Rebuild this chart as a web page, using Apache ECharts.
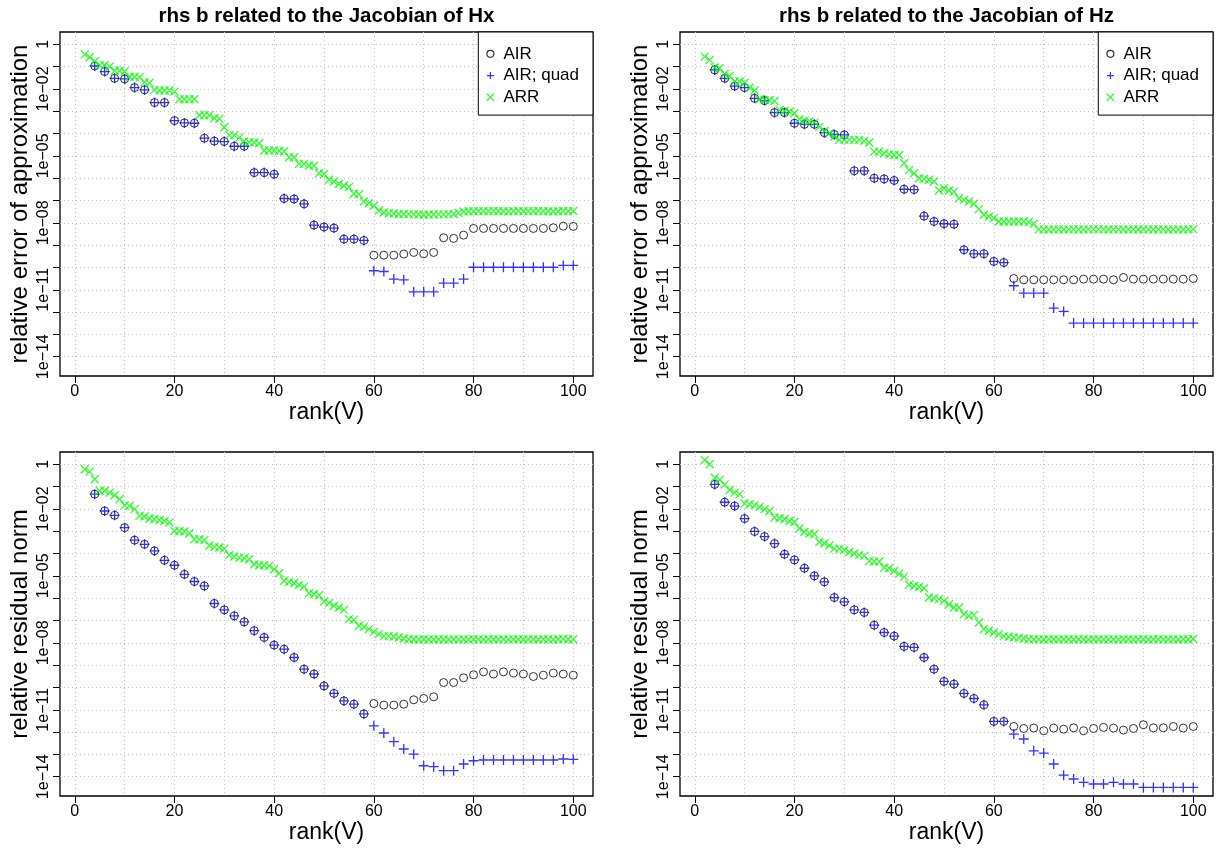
<!DOCTYPE html>
<html><head><meta charset="utf-8">
<script src="https://cdn.jsdelivr.net/npm/echarts@6/dist/echarts.min.js"></script>
<style>html,body{margin:0;padding:0;background:#fff}#c{width:1221px;height:849px}</style>
</head><body><div id="c"></div><script>
// ranks
const airRank = [4,6,8,10,12,14,16,18,20,22,24,26,28,30,32,34,36,38,40,42,44,46,48,50,52,54,56,58,60,62,64,66,68,70,72,74,76,78,80,82,84,86,88,90,92,94,96,98,100];
const arrRank = [2,3,4,5,6,7,8,9,10,11,12,13,14,15,16,17,18,19,20,21,22,23,24,25,26,27,28,29,30,31,32,33,34,35,36,37,38,39,40,41,42,43,44,45,46,47,48,49,50,51,52,53,54,55,56,57,58,59,60,61,62,63,64,65,66,67,68,69,70,71,72,73,74,75,76,77,78,79,80,81,82,83,84,85,86,87,88,89,90,91,92,93,94,95,96,97,98,99,100];

// axis ticks
const xTicks = [0,20,40,60,80,100];
const xGridLines = [0,10,20,30,40,50,60,70,80,90,100];
const yTickValues = [1,1e-1,1e-2,1e-3,1e-4,1e-5,1e-6,1e-7,1e-8,1e-9,1e-10,1e-11,1e-12,1e-13,1e-14];
const yLabelValues = [1,1e-2,1e-5,1e-8,1e-11,1e-14];
const yLabelText = ['1','1e\u221202','1e\u221205','1e\u221208','1e\u221211','1e\u221214'];

// top-left: relative error, Hx
const hxErrAIR = [1.07e-1,6.0e-2,3.0e-2,2.8e-2,1.15e-2,9.1e-3,2.45e-3,2.45e-3,3.8e-4,3.0e-4,
 2.9e-4,6.2e-5,4.6e-5,4.4e-5,2.7e-5,2.7e-5,1.78e-6,1.78e-6,1.51e-6,1.23e-7,
 1.17e-7,7.1e-8,7.9e-9,6.5e-9,5.8e-9,1.86e-9,1.86e-9,1.62e-9,3.55e-10,3.55e-10,
 3.55e-10,4.0e-10,4.7e-10,4.1e-10,4.7e-10,2.14e-9,2.0e-9,2.8e-9,5.6e-9,5.6e-9,
 5.6e-9,5.6e-9,5.6e-9,5.6e-9,5.6e-9,5.6e-9,6.0e-9,7.1e-9,6.9e-9];
const hxErrAIRquad = [1.07e-1,6.0e-2,3.0e-2,2.8e-2,1.15e-2,9.1e-3,2.45e-3,2.45e-3,3.8e-4,3.0e-4,
 2.9e-4,6.2e-5,4.6e-5,4.4e-5,2.7e-5,2.7e-5,1.78e-6,1.78e-6,1.51e-6,1.23e-7,
 1.17e-7,7.1e-8,7.9e-9,6.5e-9,5.8e-9,1.86e-9,1.86e-9,1.62e-9,7.1e-11,6.6e-11,
 3.0e-11,2.8e-11,8.1e-12,8.1e-12,8.1e-12,2.0e-11,2.0e-11,3.0e-11,1.02e-10,1.02e-10,
 1.02e-10,1.02e-10,1.02e-10,1.02e-10,1.02e-10,1.02e-10,1.02e-10,1.23e-10,1.23e-10];
const hxErrARR = [3.55e-1,2.63e-1,1.74e-1,1.17e-1,1.15e-1,1.0e-1,6.5e-2,6.5e-2,6.0e-2,3.55e-2,
 3.55e-2,3.3e-2,2.0e-2,1.91e-2,9.1e-3,8.5e-3,8.5e-3,8.5e-3,7.6e-3,3.47e-3,
 3.47e-3,3.47e-3,3.47e-3,6.6e-4,6.6e-4,6.6e-4,4.9e-4,4.6e-4,1.91e-4,8.5e-5,
 8.5e-5,6.6e-5,4.4e-5,4.1e-5,4.0e-5,3.7e-5,1.74e-5,1.74e-5,1.74e-5,1.66e-5,
 1.62e-5,8.7e-6,8.7e-6,4.4e-6,4.4e-6,3.7e-6,3.6e-6,1.66e-6,1.55e-6,8.5e-7,
 7.1e-7,5.6e-7,4.6e-7,4.0e-7,2.0e-7,1.91e-7,9.1e-8,7.6e-8,5.8e-8,3.55e-8,
 2.9e-8,2.7e-8,2.6e-8,2.5e-8,2.5e-8,2.45e-8,2.4e-8,2.35e-8,2.3e-8,2.35e-8,
 2.35e-8,2.4e-8,2.4e-8,2.45e-8,2.5e-8,2.8e-8,3.2e-8,3.3e-8,3.3e-8,3.4e-8,
 3.3e-8,3.3e-8,3.4e-8,3.3e-8,3.3e-8,3.2e-8,3.3e-8,3.4e-8,3.3e-8,3.3e-8,
 3.3e-8,3.4e-8,3.3e-8,3.3e-8,3.2e-8,3.3e-8,3.4e-8,3.3e-8,3.4e-8];

// top-right: relative error, Hz
const hzErrAIR = [7.1e-2,3.0e-2,1.35e-2,1.15e-2,3.8e-3,3.0e-3,8.7e-4,8.7e-4,2.9e-4,2.6e-4,
 2.6e-4,1.1e-4,9.1e-5,8.7e-5,2.14e-6,2.14e-6,1.0e-6,9.3e-7,7.9e-7,3.2e-7,
 3.1e-7,2.0e-8,1.15e-8,9.1e-9,8.7e-9,6.2e-10,4.1e-10,4.1e-10,1.86e-10,1.66e-10,
 3.2e-11,2.8e-11,2.8e-11,2.8e-11,2.8e-11,2.8e-11,2.8e-11,3.0e-11,3.0e-11,3.0e-11,
 2.8e-11,3.55e-11,3.0e-11,3.0e-11,3.0e-11,3.0e-11,3.0e-11,3.0e-11,3.2e-11];
const hzErrAIRquad = [7.1e-2,3.0e-2,1.35e-2,1.15e-2,3.8e-3,3.0e-3,8.7e-4,8.7e-4,2.9e-4,2.6e-4,
 2.6e-4,1.1e-4,9.1e-5,8.7e-5,2.14e-6,2.14e-6,1.0e-6,9.3e-7,7.9e-7,3.2e-7,
 3.1e-7,2.0e-8,1.15e-8,9.1e-9,8.7e-9,6.2e-10,4.1e-10,4.1e-10,1.86e-10,1.66e-10,
 1.51e-11,7.1e-12,7.1e-12,7.1e-12,1.51e-12,1.07e-12,3.2e-13,3.2e-13,3.2e-13,3.2e-13,
 3.2e-13,3.2e-13,3.2e-13,3.2e-13,3.2e-13,3.2e-13,3.2e-13,3.2e-13,3.2e-13];
const hzErrARR = [2.8e-1,2.0e-1,9.1e-2,8.5e-2,4.7e-2,3.8e-2,2.14e-2,2.14e-2,1.91e-2,1.17e-2,
 8.5e-3,3.47e-3,3.2e-3,3.2e-3,2.9e-3,1.15e-3,1.02e-3,9.8e-4,8.1e-4,4.4e-4,
 3.8e-4,3.47e-4,3.1e-4,2.0e-4,1.32e-4,1.02e-4,7.4e-5,5.2e-5,5.2e-5,5.2e-5,
 5.2e-5,5.2e-5,4.7e-5,4.0e-5,1.55e-5,1.55e-5,1.32e-5,1.17e-5,1.1e-5,1.1e-5,
 4.7e-6,2.3e-6,1.66e-6,1.0e-6,9.3e-7,8.5e-7,7.1e-7,2.8e-7,3.55e-7,2.8e-7,
 2.5e-7,1.26e-7,1.07e-7,9.1e-8,7.1e-8,4.1e-8,2.3e-8,1.91e-8,1.62e-8,1.15e-8,
 1.15e-8,1.15e-8,1.15e-8,1.15e-8,1.15e-8,1.1e-8,9.1e-9,5.1e-9,5.1e-9,5.0e-9,
 5.1e-9,5.1e-9,5.0e-9,5.1e-9,5.1e-9,5.0e-9,5.1e-9,5.1e-9,5.2e-9,5.1e-9,
 5.1e-9,5.0e-9,5.1e-9,5.1e-9,5.0e-9,5.1e-9,5.1e-9,5.0e-9,5.1e-9,5.1e-9,
 5.0e-9,5.1e-9,5.1e-9,5.0e-9,5.1e-9,5.1e-9,5.0e-9,5.1e-9,5.2e-9];

// bottom-left: residual norm, Hx
const hxResAIR = [4.6e-2,8.1e-3,5.2e-3,1.45e-3,4.0e-4,2.6e-4,1.32e-4,5.0e-5,3.0e-5,1.17e-5,
 5.6e-6,3.55e-6,5.8e-7,3.0e-7,1.62e-7,8.7e-8,3.5e-8,1.74e-8,7.9e-9,5.2e-9,
 2.2e-9,6.6e-10,4.0e-10,1.17e-10,5.4e-11,2.5e-11,1.78e-11,6.5e-12,1.91e-11,1.62e-11,
 1.62e-11,1.78e-11,2.8e-11,3.2e-11,3.8e-11,1.66e-10,1.66e-10,2.7e-10,3.7e-10,5.0e-10,
 4.0e-10,5.0e-10,4.4e-10,4.0e-10,3.1e-10,3.55e-10,4.4e-10,4.0e-10,3.55e-10];
const hxResAIRquad = [4.6e-2,8.1e-3,5.2e-3,1.45e-3,4.0e-4,2.6e-4,1.32e-4,5.0e-5,3.0e-5,1.17e-5,
 5.6e-6,3.55e-6,5.8e-7,3.0e-7,1.62e-7,8.7e-8,3.5e-8,1.74e-8,7.9e-9,5.2e-9,
 2.2e-9,6.6e-10,4.0e-10,1.17e-10,5.4e-11,2.5e-11,1.78e-11,6.5e-12,1.91e-12,9.1e-13,
 3.7e-13,1.74e-13,1.02e-13,3.1e-14,2.8e-14,1.86e-14,1.86e-14,3.7e-14,5.2e-14,5.6e-14,
 5.6e-14,5.6e-14,5.6e-14,5.6e-14,5.6e-14,5.6e-14,5.6e-14,6.2e-14,6.0e-14];
const hxResARR = [6.0e-1,4.7e-1,2.14e-1,6.5e-2,6.5e-2,5.4e-2,4.1e-2,2.7e-2,1.45e-2,1.35e-2,
 9.8e-3,4.9e-3,4.6e-3,3.7e-3,3.47e-3,3.2e-3,2.9e-3,2.45e-3,1.02e-3,1.02e-3,
 9.8e-4,8.1e-4,4.4e-4,4.4e-4,4.0e-4,2.3e-4,2.0e-4,1.86e-4,1.66e-4,8.5e-5,
 7.4e-5,6.6e-5,6.2e-5,5.6e-5,3.3e-5,3.0e-5,3.0e-5,2.8e-5,2.0e-5,1.32e-5,
 6.0e-6,5.4e-6,4.7e-6,4.0e-6,3.3e-6,1.66e-6,1.51e-6,1.35e-6,7.1e-7,6.0e-7,
 4.6e-7,3.8e-7,3.0e-7,1.15e-7,1.07e-7,5.8e-8,5.2e-8,4.1e-8,3.1e-8,2.45e-8,
 2.0e-8,2.0e-8,1.91e-8,1.74e-8,1.55e-8,1.45e-8,1.45e-8,1.42e-8,1.45e-8,1.42e-8,
 1.42e-8,1.45e-8,1.42e-8,1.42e-8,1.45e-8,1.42e-8,1.45e-8,1.42e-8,1.45e-8,1.45e-8,
 1.42e-8,1.45e-8,1.45e-8,1.42e-8,1.45e-8,1.42e-8,1.45e-8,1.45e-8,1.42e-8,1.45e-8,
 1.45e-8,1.42e-8,1.45e-8,1.45e-8,1.42e-8,1.45e-8,1.48e-8,1.45e-8,1.45e-8];

// bottom-right: residual norm, Hz
const hzResAIR = [1.26e-1,2.0e-2,1.35e-2,3.7e-3,9.8e-4,5.8e-4,2.8e-4,9.3e-5,5.2e-5,2.2e-5,
 1.0e-5,5.4e-6,1.07e-6,6.9e-7,3.0e-7,2.3e-7,6.2e-8,2.9e-8,2.0e-8,6.9e-9,
 6.2e-9,2.2e-9,6.6e-10,1.86e-10,1.41e-10,5.4e-11,3.2e-11,1.66e-11,3.0e-12,3.0e-12,
 1.78e-12,1.45e-12,1.51e-12,1.15e-12,1.51e-12,1.35e-12,1.55e-12,1.15e-12,1.45e-12,1.62e-12,
 1.51e-12,1.23e-12,1.45e-12,2.14e-12,1.55e-12,1.55e-12,1.78e-12,1.51e-12,1.78e-12];
const hzResAIRquad = [1.26e-1,2.0e-2,1.35e-2,3.7e-3,9.8e-4,5.8e-4,2.8e-4,9.3e-5,5.2e-5,2.2e-5,
 1.0e-5,5.4e-6,1.07e-6,6.9e-7,3.0e-7,2.3e-7,6.2e-8,2.9e-8,2.0e-8,6.9e-9,
 6.2e-9,2.2e-9,6.6e-10,1.86e-10,1.41e-10,5.4e-11,3.2e-11,1.66e-11,3.0e-12,3.0e-12,
 8.1e-13,4.9e-13,1.45e-13,1.15e-13,3.7e-14,1.17e-14,7.9e-15,5.6e-15,4.7e-15,4.7e-15,
 5.6e-15,4.7e-15,4.7e-15,3.3e-15,3.3e-15,3.3e-15,3.3e-15,3.3e-15,3.3e-15];
const hzResARR = [1.55,1.0,2.5e-1,2.0e-1,1.26e-1,7.1e-2,5.4e-2,4.6e-2,1.78e-2,1.62e-2,
 1.45e-2,1.23e-2,9.8e-3,8.1e-3,4.1e-3,3.8e-3,3.47e-3,2.9e-3,2.6e-3,1.32e-3,
 9.3e-4,7.9e-4,7.4e-4,3.3e-4,2.9e-4,2.3e-4,1.66e-4,1.66e-4,1.45e-4,1.17e-4,
 1.0e-4,8.5e-5,7.9e-5,4.7e-5,4.4e-5,4.4e-5,2.3e-5,2.2e-5,1.66e-5,1.26e-5,
 9.3e-6,4.0e-6,3.55e-6,3.2e-6,2.8e-6,1.07e-6,9.8e-7,9.1e-7,7.6e-7,5.4e-7,
 3.8e-7,3.8e-7,1.91e-7,1.62e-7,1.74e-7,8.1e-8,4.1e-8,3.47e-8,2.9e-8,2.45e-8,
 2.0e-8,1.86e-8,1.74e-8,1.66e-8,1.55e-8,1.45e-8,1.45e-8,1.45e-8,1.42e-8,1.45e-8,
 1.45e-8,1.42e-8,1.45e-8,1.45e-8,1.42e-8,1.45e-8,1.45e-8,1.42e-8,1.45e-8,1.45e-8,
 1.42e-8,1.45e-8,1.45e-8,1.42e-8,1.45e-8,1.45e-8,1.42e-8,1.45e-8,1.45e-8,1.42e-8,
 1.45e-8,1.45e-8,1.42e-8,1.45e-8,1.45e-8,1.42e-8,1.45e-8,1.45e-8,1.48e-8];

const titles = ['rhs b related to the Jacobian of Hx', 'rhs b related to the Jacobian of Hz'];
const yNames = ['relative error of approximation', 'relative residual norm'];
const seriesNames = ['AIR', 'AIR; quad', 'ARR'];

// ---- layout / style ----
const FONT = '"Liberation Sans", Arial, Helvetica, sans-serif';
const GW = 533, GH = 344;
const X_MIN = -2.96, X_MAX = 103.96;
const Y_MIN = 1.365e-15, Y_MAX = 3.565;
const GRIDC = '#c4c4c4';
const panels = [
  {left: 60,  top: 32,  title: titles[0], yName: yNames[0], air: hxErrAIR, quad: hxErrAIRquad, arr: hxErrARR, legend: true},
  {left: 680, top: 32,  title: titles[1], yName: yNames[0], air: hzErrAIR, quad: hzErrAIRquad, arr: hzErrARR, legend: true},
  {left: 60,  top: 452, yName: yNames[1], air: hxResAIR, quad: hxResAIRquad, arr: hxResARR},
  {left: 680, top: 452, yName: yNames[1], air: hzResAIR, quad: hzResAIRquad, arr: hzResARR}
];
const pair = (xs, ys) => xs.map((x, i) => [x, ys[i]]);
const PLUS = 'path://M5,0L5,10M0,5L10,5';
const CROSS = 'path://M0,0L10,10M10,0L0,10';
const yFmt = v => {
  const i = yLabelValues.findIndex(t => Math.abs(Math.log10(t) - Math.log10(v)) < 0.01);
  return i >= 0 ? yLabelText[i] : '';
};

const grid = [], xAxis = [], yAxis = [], series = [], legend = [], graphic = [];
panels.forEach((p, i) => {
  grid.push({left: p.left, top: p.top, width: GW, height: GH, show: true, borderColor: '#000', borderWidth: 1.3,
    backgroundColor: 'transparent', containLabel: false, outerBoundsMode: 'none'});
  xAxis.push({gridIndex: i, type: 'value', min: X_MIN, max: X_MAX, position: 'bottom',
    name: 'rank(V)', nameLocation: 'middle', nameGap: 24,
    nameTextStyle: {fontSize: 23, color: '#000', fontFamily: FONT},
    axisLine: {show: false, onZero: false},
    axisTick: {show: true, inside: false, length: 7, customValues: xTicks, lineStyle: {color: '#000', width: 1}},
    axisLabel: {customValues: xTicks, margin: 8, fontSize: 16, color: '#000', fontFamily: FONT},
    splitLine: {show: false}});
  yAxis.push({gridIndex: i, type: 'log', logBase: 10, min: Y_MIN, max: Y_MAX, position: 'left',
    name: p.yName, nameLocation: 'middle', nameGap: 28,
    nameTextStyle: {fontSize: 24, color: '#000', fontFamily: FONT},
    axisLine: {show: false, onZero: false},
    axisTick: {show: true, inside: false, length: 7, customValues: yTickValues, lineStyle: {color: '#000', width: 1}},
    axisLabel: {customValues: yLabelValues, rotate: 90, margin: 8, fontSize: 16, color: '#000', fontFamily: FONT, formatter: yFmt},
    splitLine: {show: true, lineStyle: {color: GRIDC, type: [1, 3], width: 1}}});
  series.push({type: 'scatter', name: seriesNames[0], xAxisIndex: i, yAxisIndex: i, data: pair(airRank, p.air),
    symbol: 'circle', symbolSize: 8, silent: true,
    itemStyle: {color: 'transparent', borderColor: '#000000', borderWidth: 1}});
  series.push({type: 'scatter', name: seriesNames[1], xAxisIndex: i, yAxisIndex: i, data: pair(airRank, p.quad),
    symbol: PLUS, symbolSize: 10, silent: true,
    itemStyle: {color: 'transparent', borderColor: '#0000ff', borderWidth: 1.3}});
  series.push({type: 'scatter', name: seriesNames[2], xAxisIndex: i, yAxisIndex: i, data: pair(arrRank, p.arr),
    symbol: CROSS, symbolSize: 8, silent: true,
    itemStyle: {color: 'transparent', borderColor: '#00ff00', borderWidth: 1.3}});
  if (p.title) {
    graphic.push({type: 'text', x: p.left + GW / 2, y: 16, silent: true,
      style: {text: p.title, fontSize: 20.5, fontWeight: 'bold', fontFamily: FONT, fill: '#000', align: 'center', verticalAlign: 'middle'}});
  }
  if (p.legend) {
    legend.push({data: seriesNames, orient: 'vertical', right: 1221 - (p.left + GW), top: p.top,
      padding: [11, 14, 7, 8], itemWidth: 16, itemHeight: 7, itemGap: 0,
      backgroundColor: '#fff', borderColor: '#000', borderWidth: 1, borderRadius: 0,
      selectedMode: false, itemStyle: {borderWidth: 1.2},
      textStyle: {fontSize: 17, lineHeight: 21.7, color: '#000', fontFamily: FONT}});
  }
});
// auxiliary x axes that only carry the vertical dotted grid lines
panels.forEach((p, i) => {
  xAxis.push({gridIndex: i, type: 'value', min: X_MIN, max: X_MAX, position: 'bottom',
    axisLine: {show: false, onZero: false}, axisTick: {show: false, customValues: xGridLines}, axisLabel: {show: false},
    splitLine: {show: true, lineStyle: {color: GRIDC, type: [1, 3], width: 1}}});
});

const chart = echarts.init(document.getElementById('c'), null, {renderer: 'canvas'});
chart.setOption({animation: false, backgroundColor: '#fff', grid, xAxis, yAxis, series, legend, graphic,
  textStyle: {fontFamily: FONT}});
</script></body></html>
